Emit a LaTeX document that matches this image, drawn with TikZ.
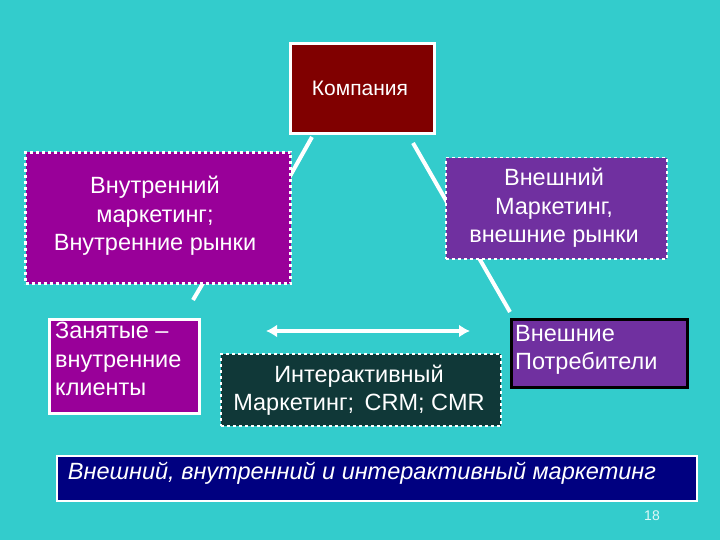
\documentclass[tikz,border=0pt]{standalone}
\usepackage{fontspec}
\usetikzlibrary{arrows.meta}
\setmainfont{Liberation Sans}
\begin{document}
\begin{tikzpicture}[x=1pt,y=-1pt,
  box/.style={draw=white,text=white,inner sep=4pt,anchor=north west,align=center},
  txt/.style={text=white,font=\fontsize{23.5}{28.5}\selectfont},
  conn/.style={draw=white,line width=4pt}]
\definecolor{bg}{HTML}{33CCCC}
\definecolor{maroon}{HTML}{800000}
\definecolor{mag}{HTML}{990099}
\definecolor{vio}{HTML}{7030A0}
\definecolor{dk}{HTML}{103838}
\definecolor{navy}{HTML}{000080}
\fill[bg] (0,0) rectangle (720,540);
\useasboundingbox (0,0) rectangle (720,540);
% connectors behind
\coordinate (c1) at (312,137); \coordinate (c2) at (285,185);
\coordinate (c3) at (206,278); \coordinate (c4) at (193,300);
\coordinate (c5) at (413,143); \coordinate (c6) at (510,312);
\draw[conn] (c1) -- (c2);
\draw[conn] (c3) -- (c4);
\draw[conn] (c5) -- (c6);
\node[box,fill=maroon,line width=3pt,minimum width=144pt,minimum height=90pt] (comp) at (289,42) {};
\node[text=white,font=\fontsize{21}{24}\selectfont] (compt) at (360,88) {Компания};
\node[box,fill=mag,line width=3pt,dashed,minimum width=265pt,minimum height=131pt] (inn) at (24,151) {};
\node[txt,align=center] (innt) at (155,216) {Внутренний\\маркетинг;\\Внутренние рынки};
\node[box,fill=vio,line width=1.5pt,dashed,minimum width=221pt,minimum height=101pt] (ext) at (445,157) {};
\node[txt,align=center] (extt) at (554,208) {Внешний\\Маркетинг,\\внешние рынки};
\node[box,fill=mag,line width=2.5pt,minimum width=150pt,minimum height=94pt] (emp) at (48,318) {};
\node[txt,align=left,anchor=north west,inner sep=0pt] (empt) at (55,322) {Занятые –\\внутренние\\клиенты};
\node[box,fill=dk,line width=2pt,dashed,minimum width=280pt,minimum height=72pt] (int) at (220,353) {};
\node[txt,align=center] (intt) at (359,390) {Интерактивный\\Маркетинг;\, CRM; CMR};
\node[box,draw=black,fill=vio,line width=3pt,minimum width=176pt,minimum height=68pt] (cons) at (510,318) {};
\node[txt,align=left,anchor=north west,inner sep=0pt] (const) at (515,325) {Внешние\\Потребители};
\coordinate (a1) at (266,331); \coordinate (a2) at (470,331);
\draw[white,line width=3.5pt,{Latex[length=11pt,width=13pt]}-{Latex[length=11pt,width=13pt]}] (a1) -- (a2);
\node[box,fill=navy,line width=1.5pt,minimum width=640pt,minimum height=45pt] (ban) at (56,455) {};
\node[text=white,font=\itshape\fontsize{23.5}{26}\selectfont] (bant) at (362,473) {Внешний, внутренний и интерактивный маркетинг};
\node[text=white!85!bg,font=\fontsize{14}{16}\selectfont] (num) at (652,516) {18};
\end{tikzpicture}
\end{document}
